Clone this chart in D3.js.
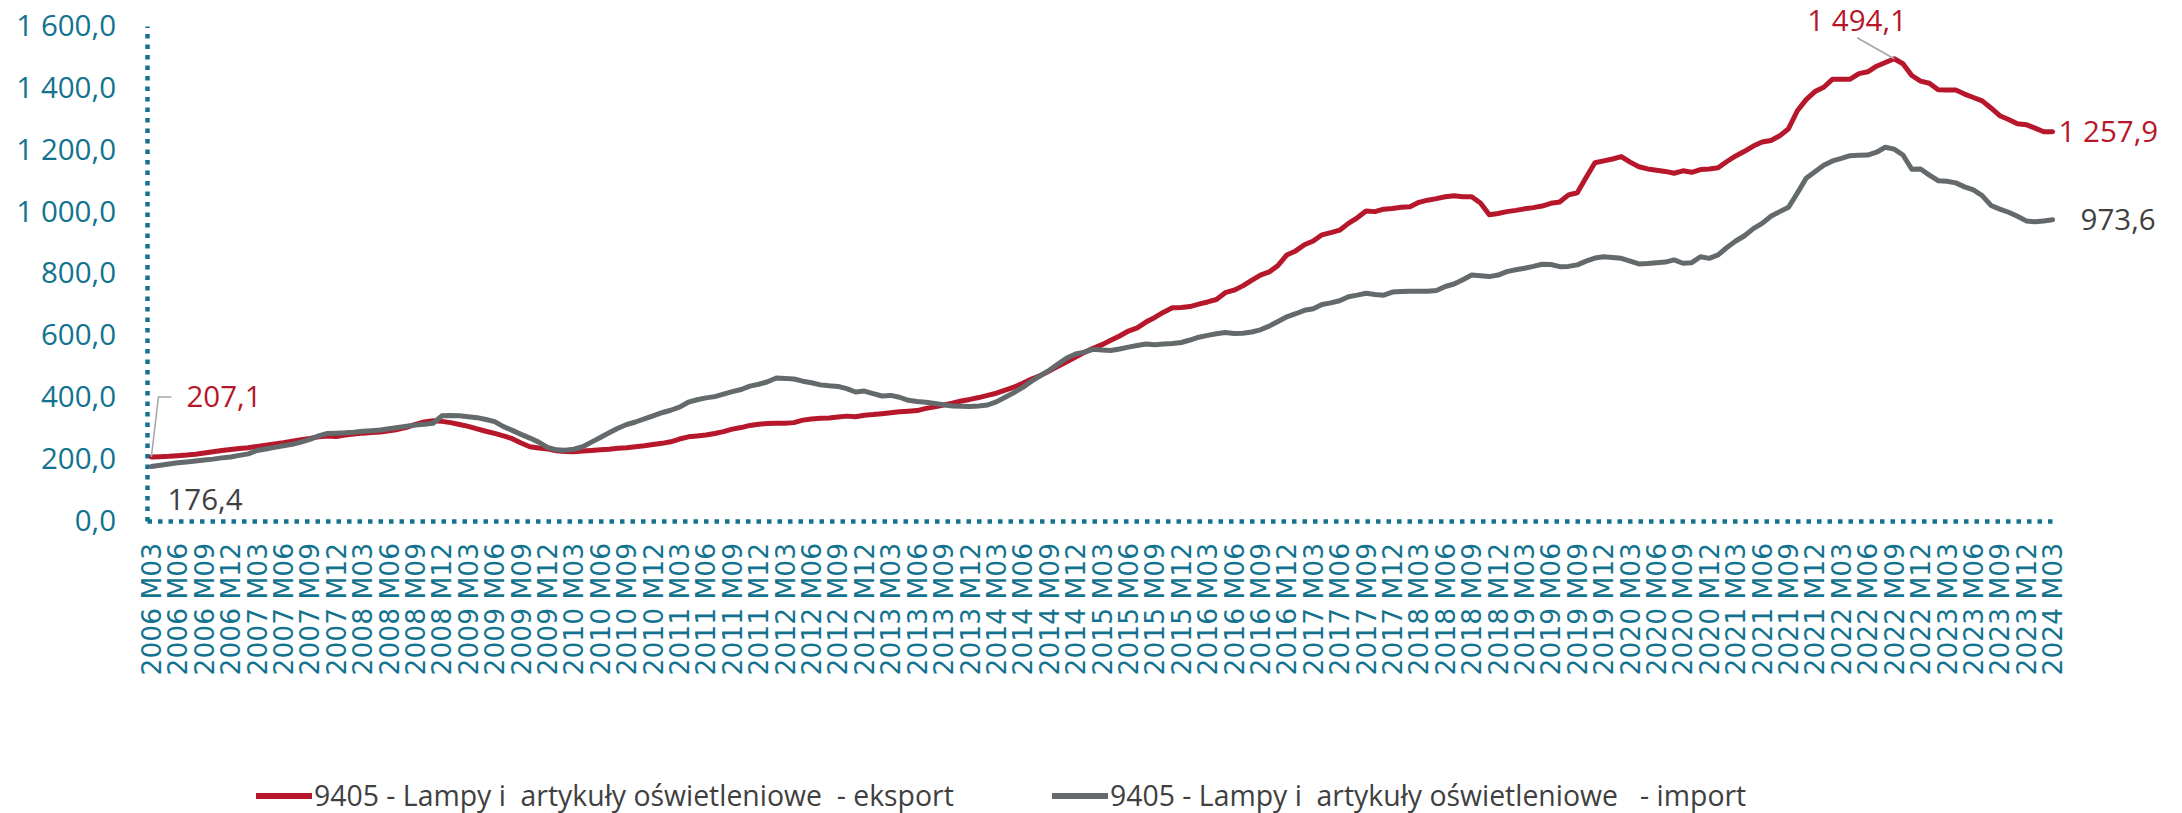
<!DOCTYPE html>
<html lang="pl">
<head>
    <meta charset="UTF-8">
    <title>9405 - Lampy i artykuły oświetleniowe</title>
    <script src="https://cdnjs.cloudflare.com/ajax/libs/d3/7.8.5/d3.min.js"></script>
    <style>
        body { margin: 0; background: #ffffff; }
        svg { display: block; }
    </style>
</head>
<body>
    <script>
        // Years and month codes used to build the monthly categories
        var years = [2006, 2007, 2008, 2009, 2010, 2011, 2012, 2013, 2014, 2015,
                     2016, 2017, 2018, 2019, 2020, 2021, 2022, 2023, 2024];
        var months = ["M01", "M02", "M03", "M04", "M05", "M06",
                      "M07", "M08", "M09", "M10", "M11", "M12"];
        // 2006 M03 ... 2024 M03
        var categories = years.flatMap(function(y){
            return months.map(function(m){ return y + " " + m; });
        }).slice(2, 219);

        // Export, monthly values
        var eksport = [
            // 2006 M03-M12
            207.1, 208, 209, 211, 213, 216, 220, 224, 228, 231,
            // 2007
            234, 237, 241, 245, 249, 253, 258, 263, 267, 272, 275, 273,
            // 2008
            278, 281, 284, 286, 288, 292, 296, 303, 312, 320, 324, 322,
            // 2009
            318, 312, 306, 298, 290, 283, 275, 266, 252, 240, 236, 233,
            // 2010
            227, 225, 224, 226, 228, 230, 232, 235, 237, 240, 243, 247,
            // 2011
            251, 256, 265, 272, 275, 278, 283, 289, 297, 302, 309, 313,
            // 2012
            315, 316, 316, 318, 326, 330, 332, 333, 336, 339, 337, 342,
            // 2013
            344, 347, 350, 353, 355, 357, 364, 369, 375, 381, 388, 393,
            // 2014
            399, 406, 413, 423, 433, 445, 459, 470, 485, 500, 515, 530,
            // 2015
            545, 558, 570, 584, 598, 614, 624, 643, 658, 675, 689, 690,
            // 2016
            693, 701, 708, 716, 738, 746, 760, 778, 795, 805, 826, 860,
            // 2017
            873, 893, 905, 925, 932, 940, 962, 980, 1002, 1000, 1008, 1010,
            // 2018
            1014, 1016, 1030, 1037, 1042, 1048, 1051, 1048, 1048, 1028, 990, 994,
            // 2019
            1000, 1004, 1009, 1013, 1018, 1027, 1031, 1054, 1061, 1110, 1158, 1164,
            // 2020
            1170, 1178, 1160, 1145, 1138, 1134, 1130, 1124, 1132, 1127, 1136, 1138,
            // 2021
            1142, 1162, 1180, 1195, 1212, 1225, 1230, 1245, 1268, 1326, 1362, 1388,
            // 2022
            1402, 1428, 1428, 1428, 1446, 1452, 1470, 1482, 1494.1, 1478, 1440, 1422,
            // 2023
            1415, 1394, 1393, 1393, 1380, 1369, 1358, 1335, 1310, 1298, 1284, 1281,
            // 2024 M01-M03
            1270, 1258, 1257.9
        ];

        // Import, monthly values
        var imp = [
            // 2006 M03-M12
            176.4, 180, 184, 188, 191, 194, 197, 200, 204, 207,
            // 2007
            212, 217, 228, 233, 238, 243, 248, 255, 264, 275, 283, 284,
            // 2008
            285, 287, 290, 292, 294, 298, 302, 306, 310, 313, 316, 340,
            // 2009
            341, 340, 337, 334, 328, 321, 305, 293, 280, 268, 255, 238,
            // 2010
            230, 229, 232, 240, 255, 270, 285, 300, 312, 320, 330, 340,
            // 2011
            350, 358, 368, 384, 392, 398, 402, 410, 418, 425, 436, 442,
            // 2012
            450, 462, 461, 459, 452, 447, 440, 437, 435, 428, 417, 420,
            // 2013
            412, 404, 406, 400, 390, 386, 384, 380, 376, 372, 371, 370,
            // 2014
            372, 375, 385, 400, 415, 432, 452, 470, 487, 507, 527, 540,
            // 2015
            546, 555, 553, 551, 556, 562, 567, 572, 570, 572, 574, 577,
            // 2016
            585, 594, 600, 605, 609, 606, 607, 611, 618, 630, 645, 660,
            // 2017
            670, 681, 686, 700, 705, 712, 725, 730, 736, 732, 730, 740,
            // 2018
            742, 743, 743, 743, 745, 758, 766, 780, 795, 793, 790, 795,
            // 2019
            806, 812, 817, 823, 830, 829, 822, 823, 828, 840, 850, 854,
            // 2020
            852, 849, 840, 831, 832, 835, 837, 844, 833, 835, 854, 849,
            // 2021
            860, 884, 905, 922, 945, 962, 985, 1000, 1014, 1060, 1108, 1129,
            // 2022
            1150, 1164, 1172, 1181, 1182, 1183, 1192, 1208, 1202, 1183, 1137, 1138,
            // 2023
            1118, 1100, 1098, 1093, 1080, 1070, 1052, 1020, 1008, 998, 985, 970,
            // 2024 M01-M03
            967, 970, 973.6
        ];

        var yTicks = [0, 200, 400, 600, 800, 1000, 1200, 1400, 1600];
        var seriesNames = ["9405 - Lampy i  artykuły oświetleniowe  - eksport",
                           "9405 - Lampy i  artykuły oświetleniowe   - import"];
        var seriesColors = ["#b6172b", "#646a6c"];

        var W = 2182, H = 813;
        var plotL = 147, plotR = 2057, plotT = 26, plotB = 521;
        var teal = "#13738f";
        var labelFont = "'Open Sans', 'Liberation Sans', sans-serif";

        var svg = d3.select("body")
            .append("svg")
            .attr("width", W)
            .attr("height", H)
            .style("background-color", "#ffffff");

        var x = d3.scaleBand().domain(categories).range([plotL, plotR]).padding(0);
        var y = d3.scaleLinear().domain([0, 1600]).range([plotB, plotT]);
        var cx = function(i){ return x(categories[i]) + x.bandwidth() / 2; };

        // Polish number format: "1 600,0"
        var pl = d3.formatLocale({decimal: ",", thousands: " ", grouping: [3], currency: ["", ""]});
        var fmt = pl.format(",.1f");

        // y axis
        var yAxis = svg.append("g")
            .attr("transform", "translate(" + plotL + ",0)")
            .call(d3.axisLeft(y).tickValues(yTicks).tickFormat(fmt).tickSize(0).tickSizeOuter(0).tickPadding(31));
        yAxis.select(".domain")
            .attr("stroke", teal).attr("stroke-width", 4.5).attr("stroke-dasharray", "4.5,6");
        yAxis.selectAll("text")
            .attr("fill", teal).style("font-family", labelFont).style("font-size", "29.5px");

        // x axis, labels every third month
        var xAxis = svg.append("g")
            .attr("transform", "translate(0," + plotB + ")")
            .call(d3.axisBottom(x)
                .tickValues(categories.filter(function(d, i){ return i % 3 === 0; }))
                .tickSize(0).tickSizeOuter(0));
        xAxis.select(".domain")
            .attr("stroke", teal).attr("stroke-width", 4.5).attr("stroke-dasharray", "4.5,6");
        xAxis.selectAll("text")
            .attr("fill", teal)
            .style("font-family", "'DejaVu Sans', Verdana, sans-serif")
            .style("font-size", "26.5px")
            .attr("text-anchor", "end")
            .attr("transform", "translate(0,22) rotate(-90)")
            .attr("x", 0).attr("y", 0).attr("dy", "0.36em");

        // lines
        var line = d3.line()
            .x(function(d, i){ return cx(i); })
            .y(function(d){ return y(d); });
        [eksport, imp].forEach(function(s, k){
            svg.append("path")
                .datum(s)
                .attr("fill", "none")
                .attr("stroke", seriesColors[k])
                .attr("stroke-width", 5)
                .attr("stroke-linejoin", "round")
                .attr("stroke-linecap", "round")
                .attr("d", line);
        });

        // data labels
        var lab = svg.append("g").style("font-family", labelFont).style("font-size", "29.5px");
        var last = categories.length - 1;
        var peak = d3.maxIndex(eksport);
        var leader = "#a6a6a6";

        // first export value with leader line
        svg.append("path")
            .attr("d", d3.line()([[cx(0), y(eksport[0])], [cx(0) + 7, y(eksport[0]) - 60], [cx(0) + 20, y(eksport[0]) - 60]]))
            .attr("fill", "none").attr("stroke", leader).attr("stroke-width", 1.5);
        lab.append("text")
            .attr("x", cx(0) + 35).attr("y", y(eksport[0]) - 60).attr("dy", "0.35em")
            .attr("fill", seriesColors[0]).text(fmt(eksport[0]));
        lab.append("text")
            .attr("x", cx(0) + 16).attr("y", y(imp[0]) + 33).attr("dy", "0.35em")
            .attr("fill", "#404040").text(fmt(imp[0]));

        // peak
        svg.append("path")
            .attr("d", d3.line()([[cx(peak), y(eksport[peak])], [cx(peak) - 37, y(eksport[peak]) - 21]]))
            .attr("fill", "none").attr("stroke", leader).attr("stroke-width", 1.5);
        lab.append("text")
            .attr("x", cx(peak) - 37).attr("y", y(eksport[peak]) - 28)
            .attr("text-anchor", "middle")
            .attr("fill", seriesColors[0]).text(fmt(eksport[peak]));

        // last values
        lab.append("text")
            .attr("x", cx(last) + 6).attr("y", y(eksport[last])).attr("dy", "0.35em")
            .attr("fill", seriesColors[0]).text(fmt(eksport[last]));
        lab.append("text")
            .attr("x", cx(last) + 28).attr("y", y(imp[last])).attr("dy", "0.35em")
            .attr("fill", "#404040").text(fmt(imp[last]));

        // legend
        var legendX = [256, 1052];
        var legend = svg.append("g").attr("transform", "translate(0,796)");
        seriesNames.forEach(function(name, k){
            legend.append("line")
                .attr("x1", legendX[k]).attr("x2", legendX[k] + 56)
                .attr("y1", 0).attr("y2", 0)
                .attr("stroke", seriesColors[k]).attr("stroke-width", 6);
            legend.append("text")
                .attr("x", legendX[k] + 58).attr("y", 0).attr("dy", "0.35em")
                .attr("fill", "#404040")
                .style("white-space", "pre")
                .style("font-family", labelFont).style("font-size", "28.4px")
                .text(name);
        });
    </script>
</body>
</html>
